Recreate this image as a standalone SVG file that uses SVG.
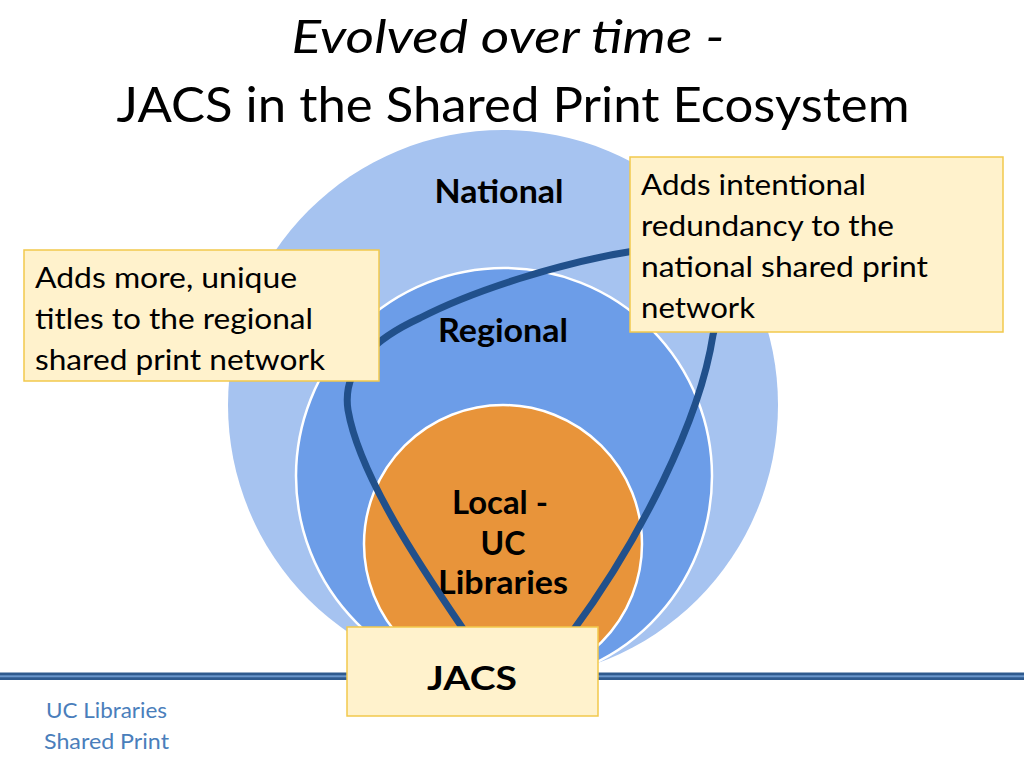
<svg xmlns="http://www.w3.org/2000/svg" width="1024" height="768" viewBox="0 0 1024 768">
  <style>
    .t { font-family: Lato, "Open Sans", "Liberation Sans", sans-serif; fill: #000; }
    .box { fill: #FFF2CC; stroke: #F2C94C; stroke-width: 1.5; }
    .ring { stroke: #FFFFFF; stroke-width: 2.5; }
    .lbl { font-family: Lato, "Open Sans", "Liberation Sans", sans-serif; font-weight: bold; font-size: 32px; text-anchor: middle; fill: #000; }
    .note { font-family: Lato, "Open Sans", "Liberation Sans", sans-serif; font-size: 28px; fill: #000; }
    .foot { font-family: Lato, "Open Sans", "Liberation Sans", sans-serif; font-size: 21px; fill: #4A7EBB; }
  </style>
  <rect width="1024" height="768" fill="#FFFFFF"/>

  <g id="title">
    <text class="t" x="508" y="53" font-size="46" font-style="italic" text-anchor="middle" textLength="433" lengthAdjust="spacingAndGlyphs">Evolved over time -</text>
    <text class="t" x="513" y="122" font-size="48" text-anchor="middle" textLength="793" lengthAdjust="spacingAndGlyphs">JACS in the Shared Print Ecosystem</text>
  </g>

  <g id="baseline-rule">
    <rect x="0" y="672.5" width="1024" height="7.5" fill="#2F5A8E"/>
    <rect x="0" y="675.3" width="1024" height="2" fill="#6A96CB"/>
  </g>

  <g id="national">
    <circle cx="503" cy="405" r="275" fill="#A6C3F0"/>
    <text class="lbl" x="499" y="203" textLength="129" lengthAdjust="spacingAndGlyphs">National</text>
  </g>

  <g id="regional">
    <circle class="ring" cx="504" cy="476" r="208" fill="#6C9DE8"/>
    <text class="lbl" x="503" y="342" textLength="130" lengthAdjust="spacingAndGlyphs">Regional</text>
  </g>

  <g id="local">
    <circle class="ring" cx="503" cy="544" r="139" fill="#E8943A"/>
    <text class="lbl" x="500" y="514" textLength="96" lengthAdjust="spacingAndGlyphs">Local -</text>
    <text class="lbl" x="503" y="555">UC</text>
    <text class="lbl" x="503" y="594" textLength="130" lengthAdjust="spacingAndGlyphs">Libraries</text>
  </g>

  <g id="connectors">
    <path d="M 468 636 C 430 580, 360 480, 348 410 C 342 370, 372 340, 420 318 C 470 292, 560 262, 640 250 C 720 244, 725 290, 713 335 C 700 420, 640 540, 572 632"
          fill="none" stroke="#21508B" stroke-width="7" stroke-linecap="round"/>
  </g>

  <g id="regional-note">
    <rect class="box" x="24" y="250" width="355" height="131"/>
    <text class="note" x="35" y="288" textLength="262" lengthAdjust="spacingAndGlyphs">Adds more, unique</text>
    <text class="note" x="35" y="329" textLength="278" lengthAdjust="spacingAndGlyphs">titles to the regional</text>
    <text class="note" x="35" y="370" textLength="290" lengthAdjust="spacingAndGlyphs">shared print network</text>
  </g>

  <g id="national-note">
    <rect class="box" x="630" y="157" width="373" height="175"/>
    <text class="note" x="641" y="195" textLength="225" lengthAdjust="spacingAndGlyphs">Adds intentional</text>
    <text class="note" x="641" y="236" textLength="253" lengthAdjust="spacingAndGlyphs">redundancy to the</text>
    <text class="note" x="641" y="277" textLength="287" lengthAdjust="spacingAndGlyphs">national shared print</text>
    <text class="note" x="641" y="318" textLength="114" lengthAdjust="spacingAndGlyphs">network</text>
  </g>

  <g id="jacs">
    <rect class="box" x="347" y="627" width="251" height="89"/>
    <text class="lbl" x="472" y="690" font-size="47" textLength="90" lengthAdjust="spacingAndGlyphs">JACS</text>
  </g>

  <g id="footer">
    <text class="foot" x="46" y="718" textLength="121" lengthAdjust="spacingAndGlyphs">UC Libraries</text>
    <text class="foot" x="44" y="749" textLength="125" lengthAdjust="spacingAndGlyphs">Shared Print</text>
  </g>
</svg>
